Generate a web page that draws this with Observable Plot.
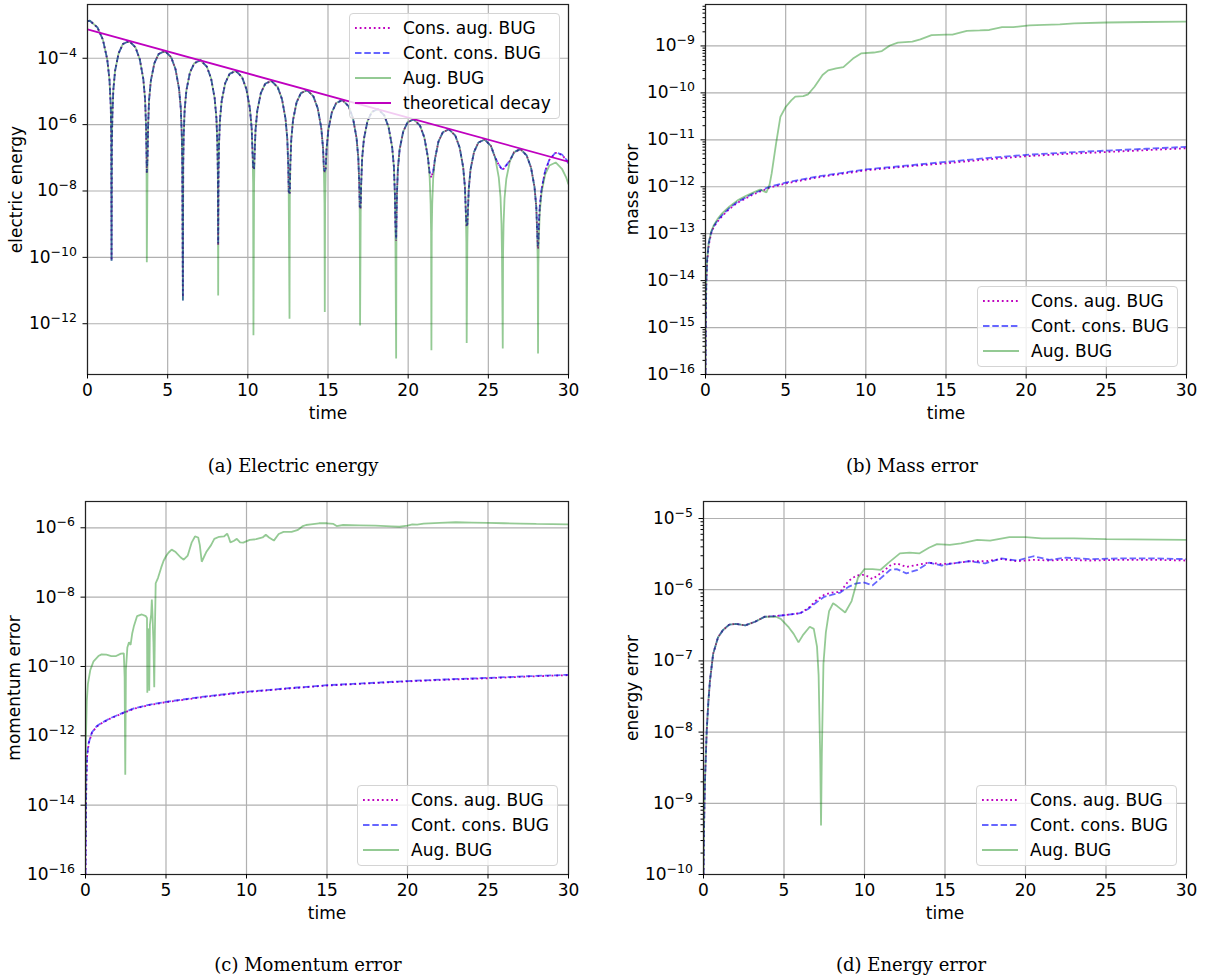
<!DOCTYPE html>
<html><head><meta charset="utf-8">
<script src="https://cdn.jsdelivr.net/npm/d3@7"></script>
<script src="https://cdn.jsdelivr.net/npm/@observablehq/plot@0.6"></script>
<style>
body{margin:0;background:#fff;}
#fig{position:relative;width:1210px;height:978px;background:#fff;font-family:"DejaVu Sans",sans-serif;overflow:hidden;}
.panel{position:absolute;}
.legend{position:absolute;box-sizing:border-box;border:1px solid #d4d4d4;border-radius:4px;background:rgba(255,255,255,0.8);padding:1px 0 3px 0;font-family:"DejaVu Sans";font-size:17px;color:#000;}
.legend .row{display:flex;align-items:center;height:25px;white-space:nowrap;}
.legend svg{margin-left:5px;margin-right:12px;flex:none;}
.caption{position:absolute;font-family:"DejaVu Serif",serif;font-size:18px;line-height:20px;transform:translateX(-50%);white-space:nowrap;color:#000;}
</style>
</head><body>
<div id="fig"></div>
<script>
// ---------------- data (log10 of the plotted values) ----------------
const seriesLabels = ["Cons. aug. BUG", "Cont. cons. BUG", "Aug. BUG", "theoretical decay"];
const captions = ["(a) Electric energy", "(b) Mass error", "(c) Momentum error", "(d) Energy error"];
const yLabels = ["electric energy", "mass error", "momentum error", "energy error"];
const xLabel = "time";
const xTicks = [0, 5, 10, 15, 20, 25, 30];
const aTickExp = [-12, -10, -8, -6, -4];
const bTickExp = [-16, -15, -14, -13, -12, -11, -10, -9];
const cTickExp = [-16, -14, -12, -10, -8, -6];
const dTickExp = [-10, -9, -8, -7, -6, -5];

// (a) electric energy
const tA = [
0, 0.15, 0.62, 0.96, 1.23, 1.37, 1.45, 1.48, 1.5,
1.52, 1.55, 1.61, 1.72, 1.94, 2.21, 2.6, 2.99, 3.26, 3.48, 3.59, 3.65, 3.68, 3.7,
3.75, 3.78, 3.84, 3.95, 4.17, 4.44, 4.83, 5.22, 5.49, 5.71, 5.82, 5.88, 5.91, 5.95,
5.97, 6.0, 6.06, 6.17, 6.39, 6.66, 7.05, 7.44, 7.71, 7.93, 8.04, 8.10, 8.13, 8.15,
8.17, 8.20, 8.26, 8.37, 8.59, 8.86, 9.25, 9.64, 9.91, 10.13, 10.24, 10.30, 10.33, 10.35,
10.39, 10.42, 10.48, 10.59, 10.81, 11.08, 11.47, 11.86, 12.13, 12.35, 12.46, 12.52, 12.55, 12.6,
12.62, 12.65, 12.71, 12.82, 13.04, 13.31, 13.7, 14.09, 14.36, 14.58, 14.69, 14.75, 14.78, 14.8,
14.82, 14.85, 14.91, 15.02, 15.24, 15.51, 15.9, 16.29, 16.56, 16.78, 16.89, 16.95, 16.98, 17.0,
17.04, 17.07, 17.13, 17.24, 17.46, 17.73, 18.12, 18.51, 18.78, 19.0, 19.11, 19.17, 19.2, 19.25,
19.27, 19.30, 19.36, 19.47, 19.69, 19.96, 20.35, 20.74, 21.01, 21.23, 21.34, 21.40, 21.43, 21.45,
21.47, 21.50, 21.56, 21.67, 21.89, 22.16, 22.55, 22.94, 23.21, 23.43, 23.54, 23.60, 23.63, 23.65,
23.69, 23.72, 23.78, 23.89, 24.11, 24.38, 24.77, 25.16, 25.43, 25.65, 25.76, 25.82, 25.85, 25.9,
25.92, 25.95, 26.01, 26.12, 26.34, 26.61, 27.0, 27.39, 27.66, 27.88, 27.99, 28.05, 28.08, 28.1,
28.12, 28.15, 28.21, 28.32, 28.54, 28.81, 29.2, 29.59, 29.86, 30];
const augA = [
-2.88, -2.87, -3.07, -3.44, -4.03, -4.64, -5.44, -6.31, -10.1,
-6.60, -5.74, -4.96, -4.38, -3.85, -3.57, -3.48, -3.67, -4.03, -4.62, -5.22, -6.02, -6.88, -10.15,
-6.90, -6.04, -5.26, -4.68, -4.15, -3.87, -3.78, -3.97, -4.33, -4.92, -5.52, -6.32, -7.18, -11.3,
-7.18, -6.32, -5.54, -4.96, -4.43, -4.15, -4.06, -4.25, -4.61, -5.20, -5.80, -6.60, -7.46, -11.15,
-7.50, -6.64, -5.86, -5.28, -4.75, -4.47, -4.38, -4.57, -4.93, -5.52, -6.12, -6.92, -7.78, -12.35,
-7.80, -6.94, -6.16, -5.58, -5.05, -4.77, -4.68, -4.87, -5.23, -5.82, -6.42, -7.22, -8.08, -11.85,
-8.08, -7.22, -6.44, -5.86, -5.33, -5.05, -4.96, -5.15, -5.51, -6.10, -6.70, -7.50, -8.36, -11.65,
-8.38, -7.52, -6.74, -6.16, -5.63, -5.35, -5.26, -5.45, -5.81, -6.40, -7.00, -7.80, -8.66, -12.05,
-8.65, -7.79, -7.01, -6.43, -5.90, -5.62, -5.53, -5.72, -6.08, -6.67, -7.27, -8.07, -8.93, -13.05,
-8.96, -8.10, -7.32, -6.74, -6.21, -5.93, -5.84, -6.03, -6.39, -6.98, -7.58, -8.38, -9.24, -12.8,
-9.26, -8.40, -7.62, -7.04, -6.51, -6.23, -6.14, -6.33, -6.69, -7.28, -7.88, -8.68, -9.54, -12.58,
-9.57, -8.71, -7.93, -7.35, -6.82, -6.54, -6.45, -6.64, -7.00, -7.59, -8.19, -8.99, -9.85, -12.75,
-9.86, -9.00, -8.22, -7.64, -7.11, -6.83, -6.74, -6.93, -7.29, -7.88, -8.48, -9.28, -10.14, -12.9,
-10.26, -9.40, -8.62, -8.04, -7.51, -7.23, -7.14, -7.33, -7.60, -7.80];
const contA = [
-2.88, -2.87, -3.07, -3.44, -4.03, -4.64, -5.44, -6.31, -10.1,
-6.60, -5.74, -4.96, -4.38, -3.85, -3.57, -3.48, -3.67, -4.03, -4.62, -5.22, -6.02, -6.88, -7.44,
-6.90, -6.04, -5.26, -4.68, -4.15, -3.87, -3.78, -3.97, -4.33, -4.92, -5.52, -6.32, -7.18, -11.3,
-7.18, -6.32, -5.54, -4.96, -4.43, -4.15, -4.06, -4.25, -4.61, -5.20, -5.80, -6.60, -7.46, -9.6,
-7.50, -6.64, -5.86, -5.28, -4.75, -4.47, -4.38, -4.57, -4.93, -5.52, -6.12, -6.92, -7.30, -7.34,
-7.32, -6.94, -6.16, -5.58, -5.05, -4.77, -4.68, -4.87, -5.23, -5.82, -6.42, -7.22, -8.00, -8.07,
-8.00, -7.22, -6.44, -5.86, -5.33, -5.05, -4.96, -5.15, -5.51, -6.10, -6.70, -7.36, -7.38, -7.39,
-7.38, -7.35, -6.74, -6.16, -5.63, -5.35, -5.26, -5.45, -5.81, -6.40, -7.00, -7.80, -8.45, -8.49,
-8.45, -7.79, -7.01, -6.43, -5.90, -5.62, -5.53, -5.72, -6.08, -6.67, -7.27, -8.07, -8.93, -9.44,
-8.96, -8.10, -7.32, -6.74, -6.21, -5.93, -5.84, -6.03, -6.39, -6.98, -7.45, -7.47, -7.48, -7.49,
-7.48, -7.46, -7.42, -7.04, -6.51, -6.23, -6.14, -6.33, -6.69, -7.28, -7.88, -8.68, -9.00, -9.04,
-9.00, -8.71, -7.93, -7.35, -6.82, -6.54, -6.45, -6.64, -7.00, -7.20, -7.28, -7.32, -7.33, -7.34,
-7.33, -7.32, -7.29, -7.22, -7.08, -6.83, -6.74, -6.93, -7.29, -7.88, -8.48, -9.28, -9.60, -9.64,
-9.50, -9.00, -8.45, -7.95, -7.40, -7.05, -6.84, -6.90, -7.05, -7.17];
const consA = [
-2.88, -2.87, -3.07, -3.44, -4.03, -4.64, -5.44, -6.31, -10.1,
-6.60, -5.74, -4.96, -4.38, -3.85, -3.57, -3.48, -3.67, -4.03, -4.62, -5.22, -6.02, -6.88, -7.46,
-6.90, -6.04, -5.26, -4.68, -4.15, -3.87, -3.78, -3.97, -4.33, -4.92, -5.52, -6.32, -7.18, -11.2,
-7.18, -6.32, -5.54, -4.96, -4.43, -4.15, -4.06, -4.25, -4.61, -5.20, -5.80, -6.60, -7.46, -9.65,
-7.50, -6.64, -5.86, -5.28, -4.75, -4.47, -4.38, -4.57, -4.93, -5.52, -6.12, -6.92, -7.32, -7.36,
-7.34, -6.94, -6.16, -5.58, -5.05, -4.77, -4.68, -4.87, -5.23, -5.82, -6.42, -7.22, -8.02, -8.10,
-8.02, -7.22, -6.44, -5.86, -5.33, -5.05, -4.96, -5.15, -5.51, -6.10, -6.70, -7.37, -7.40, -7.42,
-7.40, -7.36, -6.74, -6.16, -5.63, -5.35, -5.26, -5.45, -5.81, -6.40, -7.00, -7.80, -8.48, -8.55,
-8.48, -7.79, -7.01, -6.43, -5.90, -5.62, -5.53, -5.72, -6.08, -6.67, -7.27, -8.07, -8.93, -9.50,
-8.96, -8.10, -7.32, -6.74, -6.21, -5.93, -5.84, -6.03, -6.39, -6.98, -7.48, -7.52, -7.56, -7.60,
-7.56, -7.50, -7.44, -7.04, -6.51, -6.23, -6.14, -6.33, -6.69, -7.28, -7.88, -8.68, -9.02, -9.08,
-9.02, -8.71, -7.93, -7.35, -6.82, -6.54, -6.45, -6.64, -7.00, -7.21, -7.29, -7.33, -7.35, -7.36,
-7.35, -7.33, -7.30, -7.23, -7.09, -6.83, -6.74, -6.93, -7.29, -7.88, -8.48, -9.28, -9.65, -9.75,
-9.55, -9.05, -8.47, -7.96, -7.41, -7.06, -6.85, -6.91, -7.06, -7.18];
const tTheory = [0, 30];
const theoryA = [-3.13, -7.12];

// (b) mass error
const tB = [0, 0.01, 0.03, 0.05, 0.1, 0.2, 0.35, 0.5, 0.75, 1, 1.5, 2, 3, 4, 5, 7, 10, 12.5, 15, 17.5, 20, 22.5, 25, 27.5, 30];
const contB = [-16, -15.2, -14.5, -14.0, -13.56, -13.2, -12.98, -12.85, -12.72, -12.62, -12.45, -12.32, -12.14, -12.0, -11.91, -11.78, -11.63, -11.55, -11.47, -11.39, -11.32, -11.27, -11.23, -11.19, -11.15];
const consB = [-16, -15.5, -14.7, -14.1, -13.62, -13.25, -13.0, -12.87, -12.74, -12.64, -12.47, -12.34, -12.16, -12.02, -11.93, -11.80, -11.65, -11.57, -11.50, -11.42, -11.35, -11.30, -11.26, -11.22, -11.18];
const tBaug = [0, 0.01, 0.03, 0.05, 0.1, 0.2, 0.35, 0.5, 0.75, 1, 1.5, 2, 2.5, 3, 3.4, 3.8, 4.0, 4.13, 4.4, 4.67, 5.0, 5.35, 5.6, 6.1, 6.4, 6.8, 7.3, 7.65, 8.15, 8.6, 9.2, 9.7, 10.5, 11.0, 11.5, 12.0, 12.9, 13.4, 14.1, 15.0, 15.4, 16.3, 17.1, 17.7, 18.5, 19.2, 20.2, 21.1, 22.1, 23, 25, 27.4, 30];
const augB = [-16, -15.2, -14.5, -14.0, -13.56, -13.2, -12.96, -12.83, -12.69, -12.58, -12.42, -12.29, -12.2, -12.12, -12.06, -12.12, -11.95, -11.71, -11.08, -10.51, -10.30, -10.16, -10.08, -10.07, -10.03, -9.87, -9.62, -9.52, -9.48, -9.45, -9.27, -9.16, -9.14, -9.11, -8.99, -8.93, -8.91, -8.86, -8.77, -8.76, -8.76, -8.68, -8.67, -8.66, -8.60, -8.60, -8.56, -8.55, -8.54, -8.52, -8.50, -8.49, -8.48];

// (c) momentum error
const tC = [0, 0.02, 0.05, 0.1, 0.2, 0.4, 0.7, 1, 1.5, 2, 3, 4, 5, 7.5, 10, 12.5, 15, 17.5, 20, 22.5, 25, 27.5, 30];
const contC = [-16, -14.5, -13.3, -12.55, -12.2, -11.9, -11.72, -11.63, -11.5, -11.40, -11.21, -11.10, -11.02, -10.86, -10.73, -10.63, -10.54, -10.48, -10.42, -10.37, -10.33, -10.28, -10.24];
const consC = [-16, -14.7, -13.4, -12.6, -12.22, -11.91, -11.73, -11.64, -11.51, -11.41, -11.22, -11.11, -11.03, -10.87, -10.74, -10.64, -10.55, -10.49, -10.43, -10.38, -10.34, -10.29, -10.25];
const tCaug = [0, 0.03, 0.08, 0.15, 0.3, 0.5, 0.8, 1.0, 1.3, 1.6,
1.9, 2.2, 2.38, 2.43, 2.47, 2.51, 2.6, 2.7, 2.8, 2.9,
3.0, 3.2, 3.5, 3.75, 3.82, 3.84, 3.87, 3.92, 3.96, 4.0,
4.08, 4.12, 4.16, 4.22, 4.27, 4.31, 4.36, 4.5, 4.7, 4.85,
5.0, 5.15, 5.35, 5.6, 5.9, 6.1, 6.35, 6.6, 6.8, 7.0,
7.1, 7.22, 7.35, 7.5, 7.8, 8.0, 8.3, 8.6, 8.8, 8.9,
9.0, 9.2, 9.4, 9.6, 9.8, 10.2, 10.6, 11.0, 11.2, 11.4,
11.7, 12.0, 12.3, 12.8, 13.2, 13.5, 13.7, 14.0, 14.5, 15.0,
15.4, 15.6, 16.0, 17, 18, 19, 19.5, 20, 20.3, 20.6,
21, 22, 23, 24, 25, 26, 27, 28, 30];
const augC = [-15, -12.0, -11.0, -10.5, -10.1, -9.85, -9.70, -9.65, -9.66, -9.70,
-9.70, -9.63, -9.62, -10.3, -13.12, -10.1, -9.45, -9.3, -9.38, -9.05,
-8.85, -8.55, -8.5, -8.55, -8.6, -10.76, -8.9, -9.0, -10.7, -8.8,
-8.5, -8.07, -8.5, -9.3, -10.6, -9.0, -7.6, -7.45, -7.15, -6.95,
-6.82, -6.72, -6.63, -6.70, -6.85, -6.92, -6.8, -6.42, -6.25, -6.28,
-6.5, -6.98, -6.85, -6.7, -6.5, -6.32, -6.26, -6.25, -6.17, -6.28,
-6.42, -6.38, -6.32, -6.42, -6.43, -6.35, -6.33, -6.28, -6.20, -6.28,
-6.37, -6.18, -6.12, -6.12, -6.06, -5.95, -5.92, -5.90, -5.87, -5.87,
-5.89, -5.95, -5.92, -5.93, -5.94, -5.96, -5.97, -5.94, -5.90, -5.91,
-5.88, -5.86, -5.84, -5.85, -5.86, -5.87, -5.88, -5.89, -5.90];

// (d) energy error
const tD = [0, 0.03, 0.06, 0.1, 0.2, 0.3, 0.4, 0.6, 0.9, 1.2,
1.6, 2.0, 2.6, 3.2, 3.8, 4.5, 5.3, 6.0, 6.5, 7.0,
7.5, 8.0, 8.5, 9.0, 9.5, 10.0, 10.5, 11.0, 11.6, 12.0,
12.6, 13.3, 14.0, 14.8, 15.5, 16.5, 17.5, 18.5, 19.5, 20.5,
21.5, 22.5, 24, 26, 28, 30];
const contD = [-10, -9.4, -9.0, -8.63, -7.98, -7.58, -7.28, -6.90, -6.67, -6.57,
-6.49, -6.48, -6.50, -6.45, -6.38, -6.37, -6.35, -6.33, -6.27, -6.18,
-6.10, -6.07, -6.04, -5.96, -5.91, -5.90, -5.94, -5.84, -5.72, -5.71,
-5.77, -5.72, -5.62, -5.66, -5.63, -5.60, -5.63, -5.56, -5.59, -5.53,
-5.58, -5.55, -5.57, -5.56, -5.56, -5.57];
const consD = [-10, -9.4, -9.0, -8.63, -7.98, -7.58, -7.28, -6.90, -6.67, -6.57,
-6.49, -6.48, -6.50, -6.45, -6.38, -6.37, -6.35, -6.33, -6.26, -6.15,
-6.07, -6.04, -6.03, -5.88, -5.80, -5.79, -5.85, -5.77, -5.66, -5.63,
-5.68, -5.65, -5.62, -5.64, -5.63, -5.60, -5.60, -5.57, -5.60, -5.58,
-5.59, -5.58, -5.59, -5.58, -5.58, -5.59];
const tDaug = [0, 0.03, 0.06, 0.1, 0.2, 0.3, 0.4, 0.6, 0.9, 1.2,
1.6, 2.0, 2.6, 3.2, 3.8, 4.5, 4.8, 5.3, 5.6, 5.9,
6.2, 6.6, 6.85, 7.05, 7.15, 7.25, 7.3, 7.35, 7.45, 7.6,
7.8, 8.05, 8.3, 8.8, 9.2, 9.6, 10.0, 10.5, 11.0, 11.5,
12.2, 12.8, 13.4, 14.0, 14.5, 15.3, 16.0, 17.0, 17.8, 19.0,
20.0, 21.0, 23.0, 25.0, 30];
const augD = [-10, -9.4, -9.0, -8.63, -7.98, -7.58, -7.28, -6.90, -6.67, -6.57,
-6.49, -6.48, -6.50, -6.45, -6.38, -6.38, -6.41, -6.53, -6.62, -6.74,
-6.63, -6.52, -6.55, -6.8, -7.2, -8.36, -9.31, -8.3, -7.04, -6.6,
-6.3, -6.19, -6.23, -6.32, -6.16, -5.83, -5.71, -5.71, -5.72, -5.62,
-5.49, -5.48, -5.49, -5.41, -5.36, -5.37, -5.35, -5.30, -5.31, -5.26,
-5.26, -5.28, -5.28, -5.29, -5.30];

// ---------------- styles ----------------
const STY = {
  cons:   {stroke: "#bf00bf", strokeWidth: 1.8, strokeDasharray: "1.8,2.9", strokeLinecap: "butt", strokeLinejoin: "miter"},
  cont:   {stroke: "#0000ff", strokeOpacity: 0.6, strokeWidth: 1.8, strokeDasharray: "6.5,2.8", strokeLinecap: "butt", strokeLinejoin: "miter"},
  aug:    {stroke: "#008000", strokeOpacity: 0.42, strokeWidth: 1.8, strokeLinecap: "butt", strokeLinejoin: "miter"},
  theory: {stroke: "#bf00bf", strokeWidth: 1.8, strokeLinecap: "butt"}
};

const rows = (ts, vs) => ts.map((t, i) => ({t, v: 10 ** vs[i]}));

function panel(o) {
  const major = o.majorExp.map(e => 10 ** e);
  const minor = [];
  if (o.minor) {
    for (const e of o.majorExp) for (let m = 2; m <= 9; m++) {
      const v = m * 10 ** e; if (v < 10 ** o.yHi) minor.push(v);
    }
  }
  const lines = o.series.map(s => Plot.line(rows(s.t, s.v), {x: "t", y: "v", clip: true, ...s.style}));
  const svg = Plot.plot({
    width: o.W, height: o.H,
    marginLeft: o.ml, marginRight: o.mr, marginTop: o.mt, marginBottom: o.mb,
    style: {fontFamily: "DejaVu Sans", fontSize: "17px", color: "#000", background: "transparent", overflow: "visible"},
    x: {domain: [0, 30]},
    y: {type: "log", domain: [10 ** o.yLo, 10 ** o.yHi]},
    marks: [
      Plot.gridX({ticks: xTicks, stroke: "#b0b0b0", strokeOpacity: 1, strokeWidth: 1.2}),
      Plot.gridY({ticks: major, stroke: "#b0b0b0", strokeOpacity: 1, strokeWidth: 1.2}),
      ...lines,
      Plot.frame({stroke: "#222", strokeWidth: 1.2}),
      Plot.axisX({ticks: xTicks, tickSize: 4.5, tickPadding: 4.5, label: null, tickFormat: d => String(d)}),
      Plot.axisY({ticks: major, tickSize: 4.5, tickPadding: 6, label: null, tickFormat: d => "10^" + Math.round(Math.log10(d))}),
      ...(o.minor ? [Plot.axisY({ticks: minor, tickSize: 2.5, tickPadding: 0, label: null, tickFormat: () => ""})] : []),
      Plot.text([xLabel], {text: d => d, frameAnchor: "bottom", lineAnchor: "middle", textAnchor: "middle", dy: 39, fontSize: 17}),
      Plot.text([o.ylabel], {text: d => d, frameAnchor: "left", lineAnchor: "middle", textAnchor: "middle", rotate: -90, dx: o.ydx, fontSize: 17})
    ]
  });
  svg.querySelectorAll("text").forEach(el => {
    const s = el.textContent;
    if (!s.startsWith("10^")) return;
    const e = s.slice(3).replace("-", "\u2212");
    el.textContent = "10";
    const ts = document.createElementNS("http://www.w3.org/2000/svg", "tspan");
    ts.setAttribute("dy", "-7");
    ts.setAttribute("font-size", "12.5px");
    ts.textContent = e;
    el.appendChild(ts);
  });
  const div = document.createElement("div");
  div.className = "panel";
  div.style.left = o.left + "px"; div.style.top = o.top + "px";
  div.appendChild(svg);
  fig.appendChild(div);
}

function legend(left, top, width, items) {
  const box = document.createElement("div");
  box.className = "legend";
  box.style.left = left + "px"; box.style.top = top + "px"; box.style.width = width + "px";
  for (const it of items) {
    const r = document.createElement("div"); r.className = "row";
    const st = it.style;
    r.innerHTML = `<svg width="36" height="10"><line x1="0" x2="36" y1="5" y2="5" stroke="${st.stroke}" stroke-opacity="${st.strokeOpacity ?? 1}" stroke-width="${st.strokeWidth}" ${st.strokeDasharray ? `stroke-dasharray="${st.strokeDasharray}"` : ""}/></svg><span>${it.label}</span>`;
    box.appendChild(r);
  }
  fig.appendChild(box);
}

function caption(text, cx, top) {
  const c = document.createElement("div");
  c.className = "caption"; c.textContent = text;
  c.style.left = cx + "px"; c.style.top = top + "px";
  fig.appendChild(c);
}

const fig = document.getElementById("fig");
const items3 = [
  {label: seriesLabels[0], style: STY.cons},
  {label: seriesLabels[1], style: STY.cont},
  {label: seriesLabels[2], style: STY.aug}
];

panel({left: 0, top: 0, W: 605, H: 440, ml: 87, mr: 37, mt: 4, mb: 66,
  yLo: -13.53, yHi: -2.38, majorExp: aTickExp, minor: false, ylabel: yLabels[0], ydx: -71,
  series: [
    {t: tA, v: consA, style: STY.cons},
    {t: tA, v: contA, style: STY.cont},
    {t: tA, v: augA, style: STY.aug},
    {t: tTheory, v: theoryA, style: STY.theory}
  ]});
panel({left: 605, top: 0, W: 605, H: 440, ml: 100, mr: 24, mt: 4, mb: 66,
  yLo: -16, yHi: -8.117, majorExp: bTickExp, minor: true, ylabel: yLabels[1], ydx: -73,
  series: [
    {t: tB, v: consB, style: STY.cons},
    {t: tB, v: contB, style: STY.cont},
    {t: tBaug, v: augB, style: STY.aug}
  ]});
panel({left: 0, top: 497, W: 605, H: 440, ml: 85, mr: 37, mt: 4, mb: 63,
  yLo: -16, yHi: -5.242, majorExp: cTickExp, minor: false, ylabel: yLabels[2], ydx: -71,
  series: [
    {t: tC, v: consC, style: STY.cons},
    {t: tC, v: contC, style: STY.cont},
    {t: tCaug, v: augC, style: STY.aug}
  ]});
panel({left: 605, top: 497, W: 605, H: 440, ml: 98, mr: 24, mt: 4, mb: 63,
  yLo: -10, yHi: -4.761, majorExp: dTickExp, minor: true, ylabel: yLabels[3], ydx: -71,
  series: [
    {t: tD, v: consD, style: STY.cons},
    {t: tD, v: contD, style: STY.cont},
    {t: tDaug, v: augD, style: STY.aug}
  ]});

legend(349, 13, 211, [...items3, {label: seriesLabels[3], style: STY.theory}]);
legend(977, 286, 201, items3);
legend(357, 785, 201, items3);
legend(976, 785, 201, items3);

caption(captions[0], 293, 456);
caption(captions[1], 912, 456);
caption(captions[2], 308, 955);
caption(captions[3], 911, 955);
</script>
</body></html>
